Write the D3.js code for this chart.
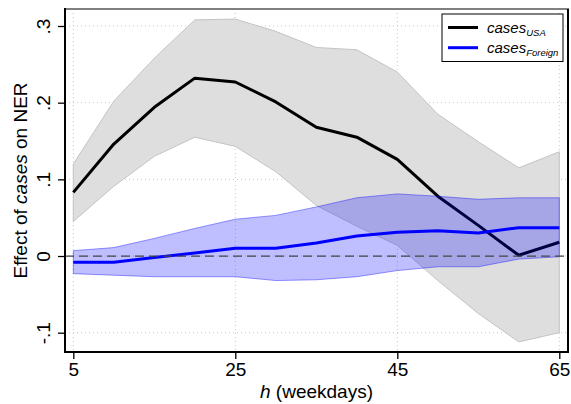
<!DOCTYPE html>
<html><head><meta charset="utf-8">
<script src="https://cdn.jsdelivr.net/npm/d3@7"></script>
<style>
body{margin:0;background:#fff;}
text{font-family:"Liberation Sans",Arial,Helvetica,sans-serif;}
</style></head>
<body><svg id="chart" width="571" height="404"></svg>
<script>
const horizons = [5,10,15,20,25,30,35,40,45,50,55,60,65];
const usa      = [0.083,0.146,0.194,0.232,0.227,0.201,0.168,0.155,0.126,0.078,0.040,0.001,0.018];
const usaHi    = [0.120,0.202,0.258,0.308,0.309,0.293,0.272,0.269,0.240,0.185,0.149,0.115,0.136];
const usaLo    = [0.045,0.091,0.130,0.155,0.143,0.110,0.066,0.039,0.014,-0.032,-0.075,-0.112,-0.100];
const foreign   = [-0.008,-0.008,-0.002,0.004,0.010,0.010,0.017,0.026,0.031,0.033,0.030,0.037,0.037];
const foreignHi = [0.007,0.011,0.023,0.036,0.048,0.053,0.064,0.076,0.081,0.078,0.074,0.076,0.076];
const foreignLo = [-0.023,-0.025,-0.027,-0.027,-0.027,-0.032,-0.031,-0.027,-0.019,-0.014,-0.014,-0.004,-0.001];
const xTicks = [5,25,45,65];
const yTicks = [-0.1,0,0.1,0.2,0.3];
const yTickLabels = ["-.1","0",".1",".2",".3"];

const svg = d3.select("#chart");
const L=65, R=568, T=9, B=352;
const x = d3.scaleLinear().domain([5,65]).range([73.3,559.3]);
const y = d3.scaleLinear().domain([-0.1,0.3]).range([332.7,26]);

// grid
const g = svg.append("g");
g.selectAll(".gy").data(yTicks).join("line")
  .attr("x1",L).attr("x2",R).attr("y1",d=>y(d)).attr("y2",d=>y(d))
  .attr("stroke","#c8c8c8").attr("stroke-width",1).attr("stroke-dasharray","1,3");
g.selectAll(".gx").data(xTicks).join("line")
  .attr("y1",T).attr("y2",B).attr("x1",d=>x(d)).attr("x2",d=>x(d))
  .attr("stroke","#c8c8c8").attr("stroke-width",1).attr("stroke-dasharray","1,3");

const idx = d3.range(horizons.length);
const area = (lo,hi)=>d3.area().x(i=>x(horizons[i])).y0(i=>y(lo[i])).y1(i=>y(hi[i]));
const line = (v)=>d3.line().x(i=>x(horizons[i])).y(i=>y(v[i]));

svg.append("path").datum(idx).attr("d",area(usaLo,usaHi))
  .attr("fill","#dedede").attr("stroke","#c4c4c4").attr("stroke-width",1);
svg.append("path").datum(idx).attr("d",line(usa))
  .attr("fill","none").attr("stroke","#000").attr("stroke-width",3).attr("stroke-linejoin","round");
svg.append("path").datum(idx).attr("d",area(foreignLo,foreignHi))
  .attr("fill","rgba(0,0,255,0.25)").attr("stroke","rgba(0,0,255,0.4)").attr("stroke-width",1);
svg.append("path").datum(idx).attr("d",line(foreign))
  .attr("fill","none").attr("stroke","#0000ff").attr("stroke-width",3).attr("stroke-linejoin","round");

// zero line
svg.append("line").attr("x1",L).attr("x2",R).attr("y1",y(0)).attr("y2",y(0))
  .attr("stroke","#444").attr("stroke-width",1.3).attr("stroke-dasharray","9,5");

// frame
svg.append("line").attr("x1",L).attr("x2",R+1).attr("y1",T).attr("y2",T).attr("stroke","#808080").attr("stroke-width",2);
svg.append("line").attr("x1",R).attr("x2",R).attr("y1",T).attr("y2",B).attr("stroke","#000").attr("stroke-width",2);
svg.append("line").attr("x1",L).attr("x2",L).attr("y1",T-1).attr("y2",B+1).attr("stroke","#000").attr("stroke-width",2);
svg.append("line").attr("x1",L-1).attr("x2",R+1).attr("y1",B).attr("y2",B).attr("stroke","#000").attr("stroke-width",2);

// axes
const xa = svg.append("g").attr("transform",`translate(0,${B})`)
  .call(d3.axisBottom(x).tickValues(xTicks).tickSize(7).tickSizeOuter(0).tickFormat(d3.format("d")));
xa.select(".domain").remove();
xa.selectAll("line").attr("stroke","#000").attr("stroke-width",1.3);
xa.selectAll("text").attr("font-size",19).attr("fill","#000").attr("dy",0).attr("y",24)
  .attr("font-family","'Liberation Sans',Arial,sans-serif");

const ya = svg.append("g").attr("transform",`translate(${L},0)`)
  .call(d3.axisLeft(y).tickValues(yTicks).tickSize(7).tickSizeOuter(0).tickFormat((d,i)=>yTickLabels[i]));
ya.select(".domain").remove();
ya.selectAll("line").attr("stroke","#000").attr("stroke-width",1.3);
ya.selectAll("text").attr("font-size",19).attr("fill","#000")
  .attr("x",0).attr("dy",0).attr("transform","translate(-15,0) rotate(-90)")
  .attr("text-anchor","middle").attr("font-family","'Liberation Sans',Arial,sans-serif");

// axis titles
const yt = svg.append("text").attr("transform",`translate(27,${(T+B)/2}) rotate(-90)`)
  .attr("text-anchor","middle").attr("font-size",19).attr("fill","#000");
yt.append("tspan").text("Effect of ");
yt.append("tspan").attr("font-style","italic").text("cases");
yt.append("tspan").text(" on NER");

const xt = svg.append("text").attr("x",(L+R)/2).attr("y",398)
  .attr("text-anchor","middle").attr("font-size",19).attr("fill","#000");
xt.append("tspan").attr("font-style","italic").text("h");
xt.append("tspan").text(" (weekdays)");

// legend
const lg = svg.append("g");
lg.append("rect").attr("x",442).attr("y",14).attr("width",121).attr("height",47.5)
  .attr("fill","#fff").attr("stroke","#000").attr("stroke-width",1);
const legendItems = [{sub:"USA",color:"#000",yy:27.5},{sub:"Foreign",color:"#0000ff",yy:47.7}];
legendItems.forEach(it=>{
  lg.append("line").attr("x1",448).attr("x2",478).attr("y1",it.yy).attr("y2",it.yy)
    .attr("stroke",it.color).attr("stroke-width",3);
  const t = lg.append("text").attr("x",487).attr("y",it.yy+5).attr("font-size",15)
    .attr("font-style","italic").attr("fill","#000");
  t.append("tspan").text("cases");
  t.append("tspan").attr("font-size",9.5).attr("dy",3).text(it.sub);
});
</script></body></html>
